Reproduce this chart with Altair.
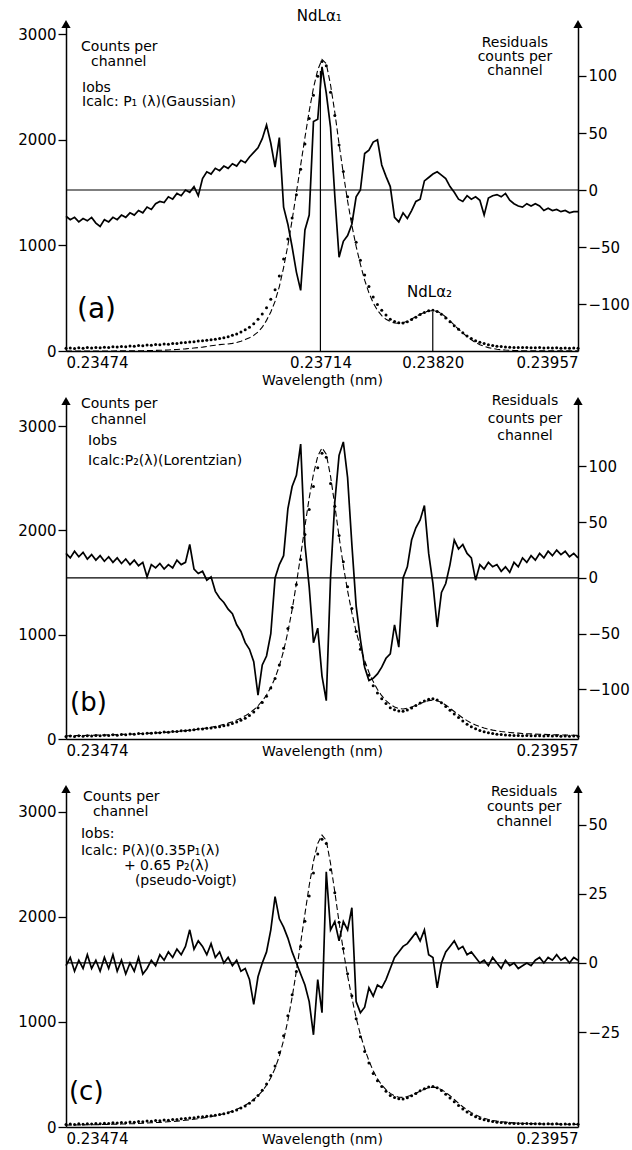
import altair as alt
import pandas as pd

WL_MIN = 0.23474
WL_MAX = 0.23957
N = 121
wavelength = [WL_MIN + i * (WL_MAX - WL_MIN) / (N - 1) for i in range(N)]

# observed intensity (counts per channel), same spectrum in all panels
obs = [25, 28, 24, 30, 27, 32, 29, 33, 30, 36,
       34, 40, 37, 43, 41, 47, 45, 52, 50, 56,
       55, 61, 60, 66, 65, 72, 71, 78, 80, 85,
       88, 95, 97, 102, 106, 112, 118, 126, 135, 148,
       162, 180, 200, 225, 258, 300, 350, 410, 490, 580,
       710, 870, 1060, 1260, 1480, 1720, 1960, 2200, 2420, 2600,
       2740, 2700, 2450, 2230, 1950, 1700, 1460, 1250, 1030, 860,
       720, 610, 510, 440, 385, 340, 300, 280, 268, 266,
       278, 298, 320, 345, 365, 380, 386, 374, 348, 312,
       276, 240, 205, 172, 142, 118, 98, 82, 70, 60,
       52, 46, 42, 38, 36, 34, 33, 32, 34, 31,
       30, 32, 29, 30, 28, 30, 27, 29, 27, 28,
       26]

# calculated profiles
calc_a = [0, 0, 0, 0, 0, 0, 0, 0, 0, 0,
          0, 0, 1, 1, 1, 2, 2, 3, 3, 4,
          5, 6, 7, 8, 10, 12, 14, 17, 20, 24,
          28, 32, 37, 43, 49, 55, 60, 64, 67, 72,
          80, 92, 108, 125, 148, 180, 225, 290, 370, 470,
          610, 790, 1000, 1240, 1500, 1760, 2020, 2270, 2490, 2660,
          2760, 2720, 2520, 2260, 1960, 1680, 1420, 1190, 990, 820,
          670, 550, 455, 385, 335, 300, 278, 265, 262, 268,
          282, 302, 325, 348, 366, 378, 382, 375, 355, 322,
          285, 245, 206, 170, 136, 106, 80, 60, 44, 32,
          23, 17, 12, 9, 7, 5, 4, 3, 3, 2,
          2, 2, 1, 1, 1, 1, 1, 1, 1, 1,
          1]
calc_b = [30, 31, 32, 33, 34, 35, 36, 37, 38, 39,
          40, 41, 42, 44, 45, 47, 48, 50, 52, 54,
          56, 58, 61, 63, 66, 69, 72, 76, 80, 84,
          89, 94, 100, 106, 113, 121, 130, 140, 152, 166,
          182, 200, 222, 248, 280, 318, 365, 422, 495, 585,
          700, 845, 1025, 1240, 1490, 1760, 2040, 2310, 2540, 2710,
          2790, 2730, 2520, 2240, 1940, 1660, 1420, 1210, 1030, 880,
          750, 640, 550, 475, 415, 368, 332, 306, 292, 288,
          294, 306, 322, 340, 356, 368, 372, 366, 350, 326,
          296, 264, 232, 202, 176, 153, 134, 118, 105, 94,
          85, 78, 72, 67, 63, 59, 56, 53, 51, 49,
          47, 45, 44, 42, 41, 40, 39, 38, 37, 36,
          35]
calc_c = [18, 19, 19, 20, 20, 21, 22, 22, 23, 24,
          25, 26, 27, 28, 29, 31, 32, 34, 36, 38,
          40, 42, 44, 47, 50, 53, 56, 60, 64, 69,
          74, 79, 85, 92, 99, 107, 116, 126, 138, 152,
          168, 186, 207, 232, 262, 298, 342, 398, 468, 558,
          675, 825, 1015, 1235, 1485, 1755, 2030, 2300, 2530, 2700,
          2780, 2730, 2510, 2240, 1950, 1680, 1440, 1230, 1040, 880,
          745, 630, 535, 458, 400, 355, 320, 296, 284, 282,
          290, 304, 322, 342, 360, 374, 380, 374, 356, 330,
          298, 262, 226, 193, 163, 137, 116, 98, 84, 72,
          63, 56, 50, 46, 42, 39, 37, 35, 33, 32,
          31, 30, 29, 28, 28, 27, 27, 26, 26, 25,
          25]

# residuals (counts per channel)
res_a = [-23, -26, -24, -28, -25, -27, -24, -29, -32, -26,
         -28, -24, -26, -22, -24, -20, -22, -18, -20, -15,
         -17, -12, -10, -11, -6, -8, -3, -5, 0, -2,
         3, -5, 10, 16, 14, 19, 17, 21, 19, 23,
         21, 26, 24, 29, 33, 37, 45, 57, 41, 20,
         46, -15, -30, -50, -72, -88, -35, -22, 60, 62,
         108, 85, 55, -5, -59, -45, -40, -30, -6, 0,
         32, 35, 42, 44, 22, 12, 3, -24, -28, -20,
         -25, -18, -10, -8, 8, 11, 14, 16, 13, 10,
         3, -2, -8, -10, -5, -8, -6, -9, -22, -7,
         -5, -4, -6, -3, -9, -12, -14, -15, -12, -14,
         -12, -14, -18, -16, -18, -17, -19, -18, -20, -19,
         -19]
res_b = [22, 18, 24, 19, 23, 17, 21, 16, 20, 15,
         19, 14, 18, 13, 17, 12, 16, 11, 14, 1,
         12, 9, 13, 8, 12, 9, 16, 12, 14, 30,
         8, 4, 6, -2, 1, -12, -18, -22, -28, -32,
         -42, -48, -58, -64, -75, -105, -78, -70, -50, 0,
         12, 20, 62, 82, 92, 120, 30, -8, -58, -45,
         -88, -110, 0, 68, 110, 122, 90, 30, -25, -55,
         -80, -92, -90, -86, -80, -72, -68, -42, -62, 0,
         10, 34, 45, 52, 65, 22, -5, -44, -13, -5,
         12, 34, 26, 30, 22, 18, -2, 12, 8, 14,
         10, 12, 6, 10, 5, 14, 10, 18, 14, 20,
         16, 22, 18, 24, 20, 25, 21, 24, 19, 22,
         18]
res_c = [-1, 2, -3, 1, -2, 3, -2, 1, -3, 2,
         -2, 3, -3, 1, -4, 0, -3, 2, -4, -2,
         1, -1, 3, 1, 4, 2, 5, 3, 6, 12,
         5, 8, 6, 3, 7, 2, 4, 0, 2, -1,
         1, -3, -2, -6, -15, -5, 0, 4, 12, 24,
         16, 13, 9, 4, 0, -4, -8, -14, -26, -6,
         -18, 33, 12, 15, 8, 15, 12, 20, -14, -18,
         -16, -9, -12, -8, -9, -6, -2, 2, 4, 6,
         7, 9, 11, 8, 12, 3, 2, -9, 0, 4,
         6, 8, 5, 6, 3, 4, 2, 0, 1, -1,
         2, 0, -2, 1, -1, 0, -2, -1, 0, -1,
         1, 2, 0, 2, 1, 3, 1, 2, 0, 2,
         1]

for arr in (obs, calc_a, calc_b, calc_c, res_a, res_b, res_c):
    assert len(arr) == N, len(arr)

FONT = "DejaVu Sans"
W = 512


def panel(calc, res, height, count_top, res_domain, res_ticks, xvals, title_pad,
          left_texts, right_texts, label_text, label_size, extra=None):
    df = pd.DataFrame({"wl": wavelength, "obs": obs, "calc": calc, "res": res})
    xenc = alt.X("wl:Q",
                 scale=alt.Scale(domain=[WL_MIN, WL_MAX], nice=False, zero=False),
                 axis=alt.Axis(values=xvals, format=".5f", title="Wavelength (nm)",
                               ticks=False, grid=False, labelPadding=4,
                               titlePadding=title_pad))
    cscale = alt.Scale(domain=[0, count_top], nice=False, zero=False)
    caxis = alt.Axis(values=[0, 1000, 2000, 3000], format="d", grid=False,
                     title=None, orient="left", tickSize=8)

    def cy(field):
        return alt.Y(field, scale=cscale, axis=caxis)

    base = alt.Chart(df)
    obs_l = base.mark_circle(size=9, color="black", opacity=1).encode(x=xenc, y=cy("obs:Q"))
    calc_l = base.mark_line(color="black", strokeDash=[6, 3], strokeWidth=1.1).encode(
        x=xenc, y=cy("calc:Q"))

    tl = pd.DataFrame(left_texts, columns=["wl", "c", "t"])
    left_t = alt.Chart(tl).mark_text(align="left", baseline="middle", font=FONT,
                                     fontSize=14, color="black").encode(
        x=xenc, y=cy("c:Q"), text="t:N")
    tr = pd.DataFrame(right_texts, columns=["wl", "c", "t"])
    right_t = alt.Chart(tr).mark_text(align="center", baseline="middle", font=FONT,
                                      fontSize=14, color="black").encode(
        x=xenc, y=cy("c:Q"), text="t:N")
    lab = pd.DataFrame([label_text], columns=["wl", "c", "t"])
    lab_t = alt.Chart(lab).mark_text(align="left", baseline="middle", font=FONT,
                                     fontSize=label_size, color="black").encode(
        x=xenc, y=cy("c:Q"), text="t:N")
    one = pd.DataFrame({"k": [0]})
    arrow_l = alt.Chart(one).mark_point(shape="triangle-up", filled=True, size=85,
                                        color="black", opacity=1).encode(
        x=alt.value(0), y=alt.value(0))
    arrow_r = alt.Chart(one).mark_point(shape="triangle-up", filled=True, size=85,
                                        color="black", opacity=1).encode(
        x=alt.value(W), y=alt.value(0))

    count_layers = [obs_l, calc_l, left_t, right_t, lab_t, arrow_l, arrow_r]
    if extra is not None:
        count_layers += extra(xenc, cy)
    counts = alt.layer(*count_layers)

    rscale = alt.Scale(domain=res_domain, nice=False, zero=False)
    raxis = alt.Axis(values=res_ticks, format="d", grid=False, title=None,
                     orient="right", tickSize=8)
    res_l = base.mark_line(color="black", strokeWidth=1.7).encode(
        x=xenc, y=alt.Y("res:Q", scale=rscale, axis=raxis))
    zero_l = alt.Chart(one).mark_rule(color="black", strokeWidth=1.2).encode(
        y=alt.Y("z:Q", scale=rscale, axis=raxis)).transform_calculate(z="0")
    resid = alt.layer(res_l, zero_l)

    return alt.layer(counts, resid).resolve_scale(y="independent").properties(
        width=W, height=height)


def extra_a(xenc, cy):
    lines = pd.DataFrame({"wl": [0.23714, 0.23820], "c0": [0, 0], "c1": [2650, 370]})
    rules = alt.Chart(lines).mark_rule(color="black", strokeWidth=1.2).encode(
        x=xenc, y=cy("c0:Q"), y2="c1:Q")
    names = pd.DataFrame({"wl": [0.23713, 0.23817], "c": [3166, 558],
                          "t": ["NdLα₁", "NdLα₂"]})
    name_t = alt.Chart(names).mark_text(align="center", baseline="middle", font=FONT,
                                        fontSize=15, color="black").encode(
        x=xenc, y=cy("c:Q"), text="t:N")
    return [rules, name_t]


pa = panel(calc_a, res_a, 327, 3095, [-141.2, 145.6], [-100, -50, 0, 50, 100],
           [0.23474, 0.23714, 0.23820, 0.23957], 3,
           [(0.234882, 2873, "Counts per"), (0.234976, 2731, "channel"),
            (0.234891, 2485, "Iobs"), (0.234891, 2353, "Icalc: P₁ (λ)(Gaussian)")],
           [(0.238975, 2911, "Residuals"), (0.238975, 2778, "counts per"),
            (0.238975, 2646, "channel")],
           (0.234844, 387, "(a)"), 28, extra=extra_a)

pb = panel(calc_b, res_b, 338, 3240, [-144.4, 158.7], [-100, -50, 0, 50, 100],
           [0.23474, 0.23957], -14,
           [(0.234881, 3213, "Counts per"), (0.234976, 3059, "channel"),
            (0.234948, 2858, "Iobs"), (0.234948, 2666, "Icalc:P₂(λ)(Lorentzian)")],
           [(0.23907, 3241, "Residuals"), (0.23907, 3069, "counts per"),
            (0.23907, 2906, "channel")],
           (0.234778, 345, "(b)"), 26)

pc = panel(calc_c, res_c, 338, 3219, [-59.4, 63.0], [-25, 0, 25, 50],
           [0.23474, 0.23957], -14,
           [(0.234900, 3142, "Counts per"), (0.234994, 2999, "channel"),
            (0.234881, 2789, "Iobs:"), (0.234881, 2628, "Icalc: P(λ)(0.35P₁(λ)"),
            (0.235286, 2485, "+ 0.65 P₂(λ)"), (0.235390, 2342, "(pseudo-Voigt)")],
           [(0.239062, 3189, "Residuals"), (0.239062, 3046, "counts per"),
            (0.239062, 2904, "channel")],
           (0.234768, 333, "(c)"), 26)

chart = alt.vconcat(pa, pb, pc, spacing=50, bounds="flush").properties(
    padding={"left": 17, "top": 9, "right": 2, "bottom": 2}
).configure_view(stroke=None).configure_axis(
    domainColor="black", domainWidth=1.5, tickColor="black", tickWidth=1.3,
    labelColor="black", labelFont=FONT, labelFontSize=15, titleFont=FONT,
    titleFontSize=14, titleFontWeight="normal", titleColor="black"
)

chart.save("out.html", embed_options={"renderer": "svg", "actions": False})
